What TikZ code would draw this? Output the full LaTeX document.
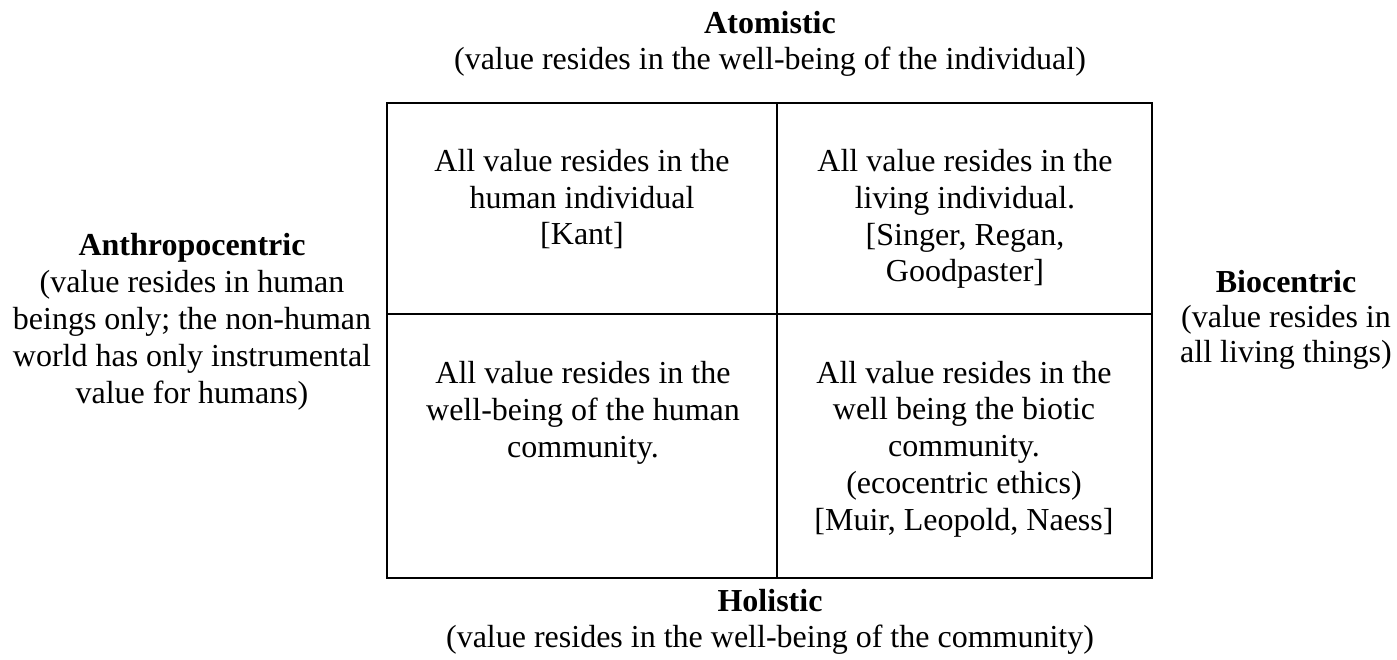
\documentclass[tikz,border=0pt]{standalone}
\usepackage{fontspec}
\setmainfont{Liberation Serif}
\begin{document}
\begin{tikzpicture}[x=1pt,y=-1pt,
  txt/.style={align=center,inner sep=0pt,anchor=base,font=\fontsize{32}{36.7}\selectfont},
  grid/.style={line width=2.5pt,black}]
\useasboundingbox (0,0) rectangle (1397,660);
\coordinate (tl) at (387,103);
\coordinate (br) at (1152,578);
\coordinate (mt) at (777,103);
\coordinate (mb) at (777,578);
\coordinate (ml) at (387,314);
\coordinate (mr) at (1152,314);
\draw[grid] (tl) rectangle (br);
\draw[grid] (mt) -- (mb);
\draw[grid] (ml) -- (mr);
% anchor=base lies on the baseline of the last line
\node[txt] (atom) at (770,70) {\textbf{Atomistic}\\(value resides in the well-being of the individual)};
\node[txt,font=\fontsize{32}{35.5}\selectfont] (holi) at (770,647) {\textbf{Holistic}\\(value resides in the well-being of the community)};
\node[txt,font=\fontsize{32}{37}\selectfont] (anthro) at (192,403) {\textbf{Anthropocentric}\\(value resides in human\\beings only; the non-human\\world has only instrumental\\value for humans)};
\node[txt,font=\fontsize{32}{35}\selectfont] (bio) at (1286,362) {\textbf{Biocentric}\\(value resides in\\all living things)};
\node[txt] (c11) at (582,245) {All value resides in the\\human individual\\{[Kant]}};
\node[txt] (c12) at (965,282) {All value resides in the\\living individual.\\{[Singer, Regan,}\\Goodpaster]};
\node[txt] (c21) at (583,457) {All value resides in the\\well-being of the human\\community.};
\node[txt] (c22) at (964,530) {All value resides in the\\well being the biotic\\community.\\(ecocentric ethics)\\{[Muir, Leopold, Naess]}};
\end{tikzpicture}
\end{document}
